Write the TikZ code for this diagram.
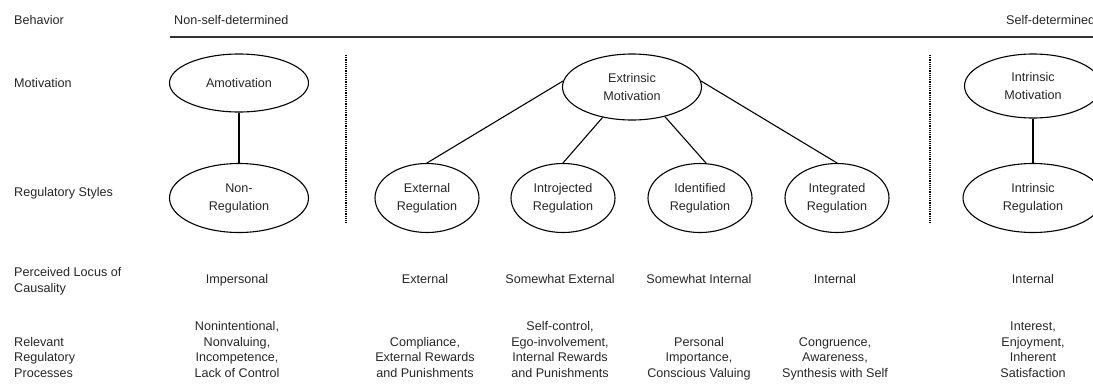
\documentclass[tikz,border=0pt]{standalone}
\usepackage{fontspec}
\setmainfont{Liberation Sans}
\usetikzlibrary{shapes.geometric}
\begin{document}
\begin{tikzpicture}[x=1pt,y=-1pt,
  every node/.style={font=\fontsize{12.6}{15.5}\selectfont, inner sep=0pt, text=black!85},
  oval/.style={ellipse, draw, line width=1.1pt, align=center, font=\fontsize{12.6}{18}\selectfont},
  wide/.style={oval, minimum width=139pt, minimum height=69pt},
  narrow/.style={oval, minimum width=104pt, minimum height=69pt},
  link/.style={line width=1.1pt},
  sep/.style={dash pattern=on 1.1pt off 1.1pt, line width=1.1pt},
  rule/.style={line width=1.6pt, draw=black!80},
  rowlabel/.style={anchor=base west, align=left},
  cell/.style={anchor=base, align=center}]
\clip (0,0) rectangle (1093,384);

% row labels
\node[rowlabel] (lb) at (14,24.5) {Behavior};
\node[rowlabel] (lm) at (14,87.5) {Motivation};
\node[rowlabel] (lr) at (14,196.5) {Regulatory Styles};
\node[rowlabel] (lp) at (14,292) {Perceived Locus of\\Causality};
\node[rowlabel] (lq) at (14,377) {Relevant\\Regulatory\\Processes};

% behavior axis
\node[anchor=base west] (nsd) at (174,24.5) {Non-self-determined};
\node[anchor=base west] (sd) at (1006,24.5) {Self-determined};
\coordinate (hl) at (170,37);
\coordinate (hr) at (1100,37);
\draw[rule] (hl) -- (hr);

% separators
\coordinate (d1t) at (346,55);
\coordinate (d1b) at (346,223);
\coordinate (d2t) at (930,55);
\coordinate (d2b) at (930,223);
\draw[sep] (d1t) -- (d1b);
\draw[sep] (d2t) -- (d2b);

% motivation ellipses
\node[oval, minimum width=139pt, minimum height=58pt] (amot) at (239,83) {Amotivation};
\node[oval, minimum width=139pt, minimum height=66pt] (extr) at (632,87) {Extrinsic\\Motivation};
\node[oval, minimum width=137pt, minimum height=64pt] (intm) at (1033,86) {Intrinsic\\Motivation};

% regulatory styles
\node[wide] (nonreg) at (239,198) {Non-\\Regulation};
\node[narrow] (ext) at (427,198) {External\\Regulation};
\node[narrow] (intro) at (563,198) {Introjected\\Regulation};
\node[narrow] (ident) at (700,198) {Identified\\Regulation};
\node[narrow] (integ) at (837,198) {Integrated\\Regulation};
\node[wide, minimum width=140pt] (intr) at (1033,198) {Intrinsic\\Regulation};

% connectors
\draw[link] (amot.south) -- (nonreg.north);
\draw[link] (intm.south) -- (intr.north);
\draw[link] (extr.175) -- (ext.north);
\draw[link] (extr.226) -- (intro.north);
\draw[link] (extr.318) -- (ident.80);
\draw[link] (extr.5) -- (integ.north);

% perceived locus of causality
\node[cell] (p1) at (237,283.5) {Impersonal};
\node[cell] (p2) at (425,283.5) {External};
\node[cell] (p3) at (560,283.5) {Somewhat External};
\node[cell] (p4) at (699,283.5) {Somewhat Internal};
\node[cell] (p5) at (835,283.5) {Internal};
\node[cell] (p6) at (1033,283.5) {Internal};

% relevant regulatory processes
\node[cell] (r1) at (237,377) {Nonintentional,\\Nonvaluing,\\Incompetence,\\Lack of Control};
\node[cell] (r2) at (425,377) {Compliance,\\External Rewards\\and Punishments};
\node[cell] (r3) at (560,377) {Self-control,\\Ego-involvement,\\Internal Rewards\\and Punishments};
\node[cell] (r4) at (699,377) {Personal\\Importance,\\Conscious Valuing};
\node[cell] (r5) at (835,377) {Congruence,\\Awareness,\\Synthesis with Self};
\node[cell] (r6) at (1033,377) {Interest,\\Enjoyment,\\Inherent\\Satisfaction};
\end{tikzpicture}
\end{document}
